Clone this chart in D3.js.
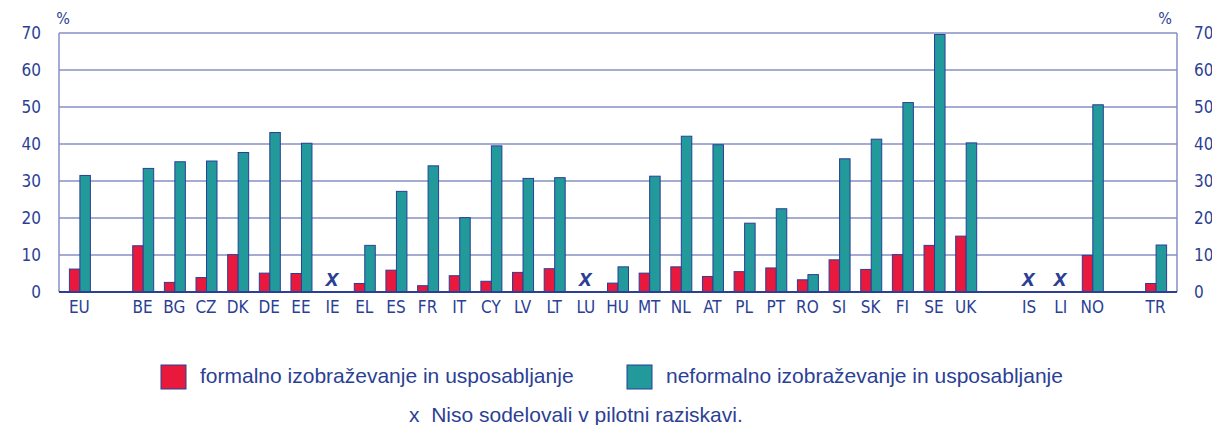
<!DOCTYPE html>
<html>
<head>
<meta charset="utf-8">
<script src="https://cdn.jsdelivr.net/npm/d3@7"></script>
<style>
  body { margin: 0; background: #fff; }
  svg { display: block; }
</style>
</head>
<body>
<div id="chart"></div>
<script>
// categories (names starting with "_" are spacer slots)
var countries = ["EU","_g1","BE","BG","CZ","DK","DE","EE","IE","EL","ES","FR","IT","CY","LV","LT","LU","HU","MT","NL","AT","PL","PT","RO","SI","SK","FI","SE","UK","_g2","IS","LI","NO","_g3","TR"];
// formalno izobrazevanje in usposabljanje (%)
var formal = [6.2,null,12.5,2.6,3.9,10.1,5.1,5.0,null,2.3,5.9,1.7,4.4,2.9,5.3,6.3,null,2.4,5.1,6.8,4.2,5.5,6.5,3.3,8.7,6.1,10.1,12.6,15.1,null,null,null,9.9,null,2.3];
// neformalno izobrazevanje in usposabljanje (%)
var nonformal = [31.5,null,33.4,35.2,35.4,37.7,43.1,40.2,null,12.6,27.2,34.1,20.1,39.5,30.7,30.9,null,6.8,31.3,42.1,39.8,18.6,22.5,4.7,36.0,41.3,51.2,69.6,40.3,null,null,null,50.6,null,12.7];
// did not take part in the pilot survey
var missing = ["IE","LU","IS","LI"];
var yTicks = [0,10,20,30,40,50,60,70];
var legendLabels = ["formalno izobraževanje in usposabljanje","neformalno izobraževanje in usposabljanje"];
var footnote = "x  Niso sodelovali v pilotni raziskavi.";

var W = 1212, H = 425;
var mLeft = 59, mRight = 1177, mTop = 33, mBottom = 292;
var navy = "#2b3f95", red = "#e8193c", teal = "#22999a", grid = "#8690c6";
var narrow = "'Liberation Sans Narrow','DejaVu Sans Condensed',sans-serif";
var sans = "'Liberation Sans',Arial,sans-serif";

var svg = d3.select("#chart").append("svg").attr("width", W).attr("height", H);

var x = d3.scalePoint().domain(countries).range([mLeft, mRight]).padding(0.66);
var y = d3.scaleLinear().domain([0, 70]).range([mBottom, mTop]);
var bw = 10.5;

// grid lines
svg.append("g").selectAll("line").data(yTicks.slice(1)).enter().append("line")
  .attr("x1", mLeft).attr("x2", mRight)
  .attr("y1", function(d){ return y(d); }).attr("y2", function(d){ return y(d); })
  .attr("stroke", grid).attr("stroke-width", 1.5);

// side axes
[mLeft, mRight].forEach(function(px){
  svg.append("line").attr("x1", px).attr("x2", px).attr("y1", mTop).attr("y2", mBottom)
    .attr("stroke", grid).attr("stroke-width", 1.5);
});

// left axis
var yAxisL = d3.axisLeft(y).tickValues(yTicks).tickSize(0).tickPadding(18);
var gl = svg.append("g").attr("transform", "translate(" + mLeft + ",0)").call(yAxisL);
gl.select(".domain").remove();
gl.selectAll(".tick text").attr("fill", navy).style("font-family", narrow).style("font-size", "17px");

// right axis
var yAxisR = d3.axisRight(y).tickValues(yTicks).tickSize(0).tickPadding(17);
var gr = svg.append("g").attr("transform", "translate(" + mRight + ",0)").call(yAxisR);
gr.select(".domain").remove();
gr.selectAll(".tick text").attr("fill", navy).style("font-family", narrow).style("font-size", "17px");

svg.append("text").attr("x", 63).attr("y", 24).attr("text-anchor", "middle")
  .attr("fill", navy).style("font-family", narrow).style("font-size", "16px").text("%");
svg.append("text").attr("x", 1165).attr("y", 24).attr("text-anchor", "middle")
  .attr("fill", navy).style("font-family", narrow).style("font-size", "16px").text("%");

// bars
var rows = countries.map(function(c, i){ return {c: c, f: formal[i], n: nonformal[i]}; })
  .filter(function(d){ return d.f !== null; });

svg.append("g").selectAll("rect").data(rows).enter().append("rect")
  .attr("x", function(d){ return x(d.c) - bw; })
  .attr("y", function(d){ return y(d.f); })
  .attr("width", bw)
  .attr("height", function(d){ return y(0) - y(d.f); })
  .attr("fill", red).attr("stroke", navy).attr("stroke-width", 1);

svg.append("g").selectAll("rect").data(rows).enter().append("rect")
  .attr("x", function(d){ return x(d.c); })
  .attr("y", function(d){ return y(d.n); })
  .attr("width", bw)
  .attr("height", function(d){ return y(0) - y(d.n); })
  .attr("fill", teal).attr("stroke", navy).attr("stroke-width", 1);

// baseline
svg.append("line").attr("x1", mLeft).attr("x2", mRight).attr("y1", y(0)).attr("y2", y(0))
  .attr("stroke", navy).attr("stroke-width", 2);

// missing markers
svg.append("g").selectAll("text").data(missing).enter().append("text")
  .attr("x", function(d){ return x(d) - 1; })
  .attr("y", y(0) - 6)
  .attr("text-anchor", "middle")
  .attr("fill", navy)
  .style("font-family", sans).style("font-size", "23px")
  .style("font-style", "italic").style("font-weight", "bold")
  .text("x");

// category labels
var xAxis = d3.axisBottom(x).tickSize(0).tickPadding(9)
  .tickFormat(function(d){ return d.charAt(0) === "_" ? "" : d; });
var gx = svg.append("g").attr("transform", "translate(-1," + mBottom + ")").call(xAxis);
gx.select(".domain").remove();
gx.selectAll(".tick text").attr("fill", navy).style("font-family", narrow).style("font-size", "17px");

// legend
var legendX = [161, 627];
var legendColors = [red, teal];
legendLabels.forEach(function(lbl, i){
  svg.append("rect").attr("x", legendX[i]).attr("y", 365).attr("width", 25).attr("height", 24)
    .attr("fill", legendColors[i]).attr("stroke", navy).attr("stroke-width", 1);
  svg.append("text").attr("x", legendX[i] + 39).attr("y", 383)
    .attr("fill", navy).style("font-family", sans).style("font-size", "21px").text(lbl);
});

svg.append("text").attr("x", 409).attr("y", 422)
  .attr("fill", navy).style("font-family", sans).style("font-size", "21px")
  .attr("xml:space", "preserve").style("white-space", "pre").text(footnote);
</script>
</body>
</html>
